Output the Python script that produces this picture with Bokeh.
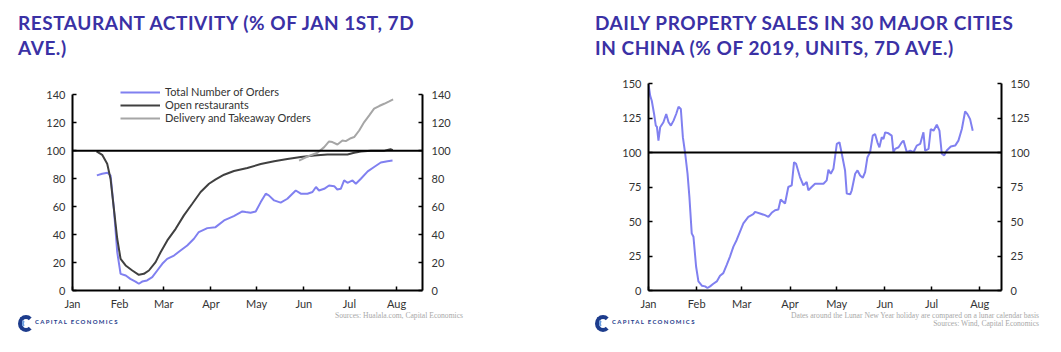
from bokeh.plotting import figure
from bokeh.layouts import row, column
from bokeh.models import (LinearAxis, FixedTicker, Span, Legend, LegendItem, Range1d, Div)
from bokeh.embed import file_html
from bokeh.resources import INLINE

# ---------------- data ----------------
month_ticks = [0, 31, 60, 91, 121, 152, 182, 213]
month_labels = ["Jan", "Feb", "Mar", "Apr", "May", "Jun", "Jul", "Aug"]

# Left chart (day of year, % of Jan 1st, 7d ave.)
orders_day = [16, 19.5, 23, 25, 27.2, 29.4, 31.6, 35, 38, 41.4, 43.6, 45.8, 49, 52.4, 55.7, 59, 62.2, 66.7, 71, 75.4,
              79.8, 83, 88.6, 94, 99.6, 106, 111.6, 113.8, 117, 120.4, 123.7, 127, 129, 132.5, 136.8, 141.2, 146.7, 150,
              154.4, 157.7, 160, 162, 165.4, 168.6, 172, 174, 176.3, 178.5, 180.7, 184, 186.2, 189.5, 194, 198.2, 202.6,
              207, 210.3]
orders_val = [82.3, 83.5, 84.2, 82.3, 58.4, 27.4, 11.9, 10.7, 8.3, 6.4, 4.8, 6.4, 7.2, 9.5, 14.3, 19.1, 22.6, 25, 28.6,
              32.2, 37, 41.8, 44.6, 45.3, 50.1, 53.2, 56.5, 56.1, 55.6, 56.5, 63.2, 69.2, 68, 64.4, 62.8, 65.6, 71.5, 69.2,
              69.2, 70.4, 74, 71.5, 72.7, 75.1, 74.6, 72.2, 72.7, 78.7, 77, 78.7, 76.3, 79.9, 85.2, 88.3, 91.5, 92.4, 92.9]

open_day = [15.8, 19.5, 22.8, 25, 27.2, 29.4, 31.6, 34.9, 39.3, 43.6, 46.9, 50.2, 54.6, 57.9, 62.3, 67.8, 73.2, 78.7,
            84.2, 89.7, 94.1, 99.6, 106.1, 114.9, 123.7, 132.5, 141.2, 150, 158.8, 167.5, 180.7, 185.1, 189.5, 196.1,
            205, 209, 210.5]
open_val = [99.4, 97, 90.6, 79.9, 58.4, 37, 22.6, 17.9, 14.3, 11.2, 11.9, 14.3, 20.3, 27.4, 35.8, 44.1, 53.7, 62, 70.4,
            76.3, 79.4, 82.8, 85.4, 87.6, 90.4, 92.4, 94, 95.4, 96.6, 97.3, 97.3, 98.5, 99.4, 99.9, 100, 101, 100.4]

deliv_day = [148.9, 154.4, 161, 165.4, 168.6, 170.8, 174.1, 177.4, 179.6, 182.9, 185.1, 188.4, 191.7, 195, 198.2,
             201.5, 204.8, 208.1, 210.7]
deliv_val = [92.9, 95.8, 98.5, 102.5, 106.6, 106.1, 104.4, 107.3, 106.8, 108.9, 109.7, 114.4, 120.4, 125.2, 130,
             131.9, 133.5, 135.2, 136.6]

# Right chart (day of year, % of 2019, units, 7d ave.)
sales_day = [0, 1.1, 2.1, 3.6, 4.7, 5.4, 6.4, 7.5, 9.6, 11.4, 12.9, 14.4, 16.1, 17.8, 19.3, 20.8, 22.1, 23.6, 25.1,
             26.3, 27.8, 28.9, 30.6, 32.1, 34.3, 36.4, 37.9, 39.6, 41.7, 43.9, 46, 48.1, 50.3, 52.4, 54.6, 56.7, 58.4,
             61, 64.2, 67.4, 68.5, 71.7, 74.9, 77.1, 79.2, 81.4, 83.5, 85, 87.8, 89.9, 92.1, 93.6, 94.9, 97.4, 99.6,
             101.7, 102.8, 104.9, 107.1, 110.3, 112.5, 114.6, 115.7, 117.2, 118.9, 121.1, 122.8, 124.3, 126.4, 127.5,
             129.7, 130.7, 132.9, 134.4, 136.1, 137.8, 139.3, 140.8, 142.5, 144.2, 145.7, 147.2, 148.5, 150, 151.1,
             152.2, 154.3, 156.4, 157.5, 158.6, 160.8, 162.9, 164, 166.1, 168.3, 170.4, 172.5, 174.7, 176.8, 177.9,
             180.1, 181.5, 183.3, 185.4, 187.1, 188.6, 190.1, 191.8, 194.4, 197.2, 199.3, 201.5, 203.6, 205.1, 206.8,
             208.5]
sales_val = [149.5, 141, 137.5, 127.9, 119.5, 118.7, 108.6, 118.3, 121.9, 127.9, 121.9, 119.5, 123.1, 127.9, 133.2,
             131.5, 111.1, 99.1, 84.7, 67.8, 41.4, 39, 17.4, 6.6, 3.5, 3, 1.8, 3, 4.9, 6.6, 10.7, 12.6, 18.6, 24.6,
             31.8, 36.6, 41.4, 48.6, 53.4, 55.3, 57, 55.8, 54.6, 53.4, 56.3, 58.2, 58.7, 65.9, 63, 75, 76.2, 93, 91.8,
             82.2, 76.2, 78.6, 72.6, 75, 77.4, 77.4, 77.4, 79.8, 87.5, 84.6, 88.2, 106.2, 107.4, 99.1, 87, 70.2, 69.7,
             72.6, 84.6, 87, 83.4, 81.7, 85.8, 96.6, 100.2, 112.2, 113.4, 107.4, 103.8, 111, 109.8, 114.6, 113.9, 112.2,
             100.2, 102.6, 103.8, 107.4, 108.6, 100.2, 101.4, 100.2, 105, 106.2, 114.6, 101.4, 102.6, 117, 115.8,
             120.1, 115.8, 99.1, 97.9, 101.4, 104.3, 105, 108.6, 117, 129.7, 127.8, 124.2, 115.8]

left_ticks = [0, 20, 40, 60, 80, 100, 120, 140]
right_ticks = [0, 25, 50, 75, 100, 125, 150]

left_title = ["RESTAURANT ACTIVITY (% OF JAN 1ST, 7D", "AVE.)"]
right_title = ["DAILY PROPERTY SALES IN 30 MAJOR CITIES", "IN CHINA (% OF 2019, UNITS, 7D AVE.)"]
left_sources = ["Sources: Hualala.com, Capital Economics"]
right_sources = ["Dates around the Lunar New Year holiday are compared on a lunar calendar basis",
                 "Sources: Wind, Capital Economics"]

# ---------------- style ----------------
TITLE_COLOR = "#3a31a5"
BLUE = "#8080f0"
DARK = "#404040"
LIGHT = "#a6a6a6"
TICK_FONT = "Lato"
TOP_H = 62
FIG_H = 250
FOOT_H = 352 - TOP_H - FIG_H


def style_axis(ax, ticks, overrides=None, bounds=None):
    ax.ticker = FixedTicker(ticks=ticks)
    if overrides:
        ax.major_label_overrides = overrides
    if bounds:
        ax.bounds = bounds
    ax.axis_line_color = "black"
    ax.axis_line_width = 2
    ax.major_tick_line_color = "black"
    ax.major_tick_line_width = 1.5
    ax.major_tick_in = 4
    ax.major_tick_out = 0
    ax.minor_tick_line_color = None
    ax.major_label_text_font = TICK_FONT
    ax.major_label_text_font_size = "11px"
    ax.major_label_text_color = "#333333"
    ax.major_label_standoff = 7


def make_fig(width, x_end, y_end, bl, br, bt, bb, yticks, ybounds):
    p = figure(width=width, height=FIG_H, output_backend="svg", toolbar_location=None,
               x_range=Range1d(0, x_end), y_range=Range1d(0, y_end),
               min_border_left=bl, min_border_right=br, min_border_top=bt, min_border_bottom=bb,
               x_axis_location=None, y_axis_location=None)
    p.grid.visible = False
    p.outline_line_color = None
    p.background_fill_color = "white"
    p.border_fill_color = "white"
    la = LinearAxis()
    style_axis(la, yticks, bounds=ybounds)
    p.add_layout(la, "left")
    ra = LinearAxis()
    style_axis(ra, yticks, bounds=ybounds)
    ra.major_label_standoff = 9
    p.add_layout(ra, "right")
    xa = LinearAxis()
    style_axis(xa, month_ticks, {t: l for t, l in zip(month_ticks, month_labels)})
    xa.major_label_standoff = 6
    p.add_layout(xa, "below")
    p.add_layout(Span(location=100, dimension="width", line_color="black", line_width=2))
    return p


def title_div(width, left, lines):
    html = (f'<div style="position:relative;width:{width}px;height:{TOP_H}px;">'
            f'<div style="position:absolute;left:{left}px;top:11px;font-family:Lato;font-weight:bold;'
            f'font-size:19px;line-height:24.5px;letter-spacing:0.55px;color:{TITLE_COLOR};white-space:nowrap;">'
            + "<br>".join(lines) + '</div></div>')
    return Div(text=html, width=width, height=TOP_H, margin=(0, 0, 0, 0))


def foot_div(width, logo_left, note_right, lines, note_top):
    bs = "box-sizing:border-box;"
    logo = (f'<div style="position:absolute;left:{logo_left}px;top:3px;width:16px;height:17px;{bs}'
            f'border:4px solid #1d3c8c;border-right-color:transparent;border-radius:50%;"></div>'
            f'<div style="position:absolute;left:{logo_left + 4}px;top:7px;width:9px;height:9px;{bs}'
            f'border:2px solid #6a9ee0;border-right-color:transparent;border-top-color:transparent;'
            f'border-bottom-color:transparent;border-radius:50%;"></div>'
            f'<div style="position:absolute;left:{logo_left + 17}px;top:6px;font-family:Lato;font-weight:bold;'
            f'font-size:6px;line-height:8px;letter-spacing:1.3px;color:#1d3c8c;white-space:nowrap;">'
            f'CAPITAL ECONOMICS</div>')
    notes = (f'<div style="position:absolute;right:{width - note_right}px;top:{note_top}px;'
             f'font-family:\'Liberation Serif\';font-size:7.6px;line-height:7.6px;color:#a8a8a8;text-align:right;'
             f'white-space:nowrap;">' + "<br>".join(lines) + '</div>')
    html = f'<div style="position:relative;width:{width}px;height:{FOOT_H}px;">' + logo + notes + '</div>'
    return Div(text=html, width=width, height=FOOT_H, margin=(0, 0, 0, 0))


# ---------------- left chart ----------------
# canvas frame: x 72..422, y 83 (y=148) .. 290 (y=0)
p1 = make_fig(530, 230, 148, 72, 108, 83 - TOP_H, TOP_H + FIG_H - 290, left_ticks, (0, 140))
r_orders = p1.line(orders_day, orders_val, line_color=BLUE, line_width=2)
r_open = p1.line(open_day, open_val, line_color=DARK, line_width=2)
r_deliv = p1.line(deliv_day, deliv_val, line_color=LIGHT, line_width=2)
legend = Legend(items=[LegendItem(label="Total Number of Orders", renderers=[r_orders]),
                       LegendItem(label="Open restaurants", renderers=[r_open]),
                       LegendItem(label="Delivery and Takeaway Orders", renderers=[r_deliv])],
                location=(48, 166), orientation="vertical", glyph_width=40, glyph_height=12,
                label_height=12, label_standoff=5, spacing=0, padding=0, margin=0,
                border_line_alpha=0, background_fill_alpha=0,
                label_text_font=TICK_FONT, label_text_font_size="11px", label_text_color="#333333")
p1.add_layout(legend, "center")

# ---------------- right chart ----------------
# canvas frame: x 648..1002 (fig offset 530), y 83 (150) .. 291 (0)
p2 = make_fig(531, 227, 150, 118, 60, 83 - TOP_H, TOP_H + FIG_H - 291, right_ticks, (0, 150))
p2.line(sales_day, sales_val, line_color=BLUE, line_width=2)

top = row(title_div(530, 18, left_title), title_div(531, 65, right_title), spacing=0)
mid = row(p1, p2, spacing=0)
bot = row(foot_div(530, 18, 463, left_sources, 0), foot_div(531, 65, 509, right_sources, 0), spacing=0)
layout = column(top, mid, bot, spacing=0)
open("out.html", "w").write(file_html(layout, INLINE))
